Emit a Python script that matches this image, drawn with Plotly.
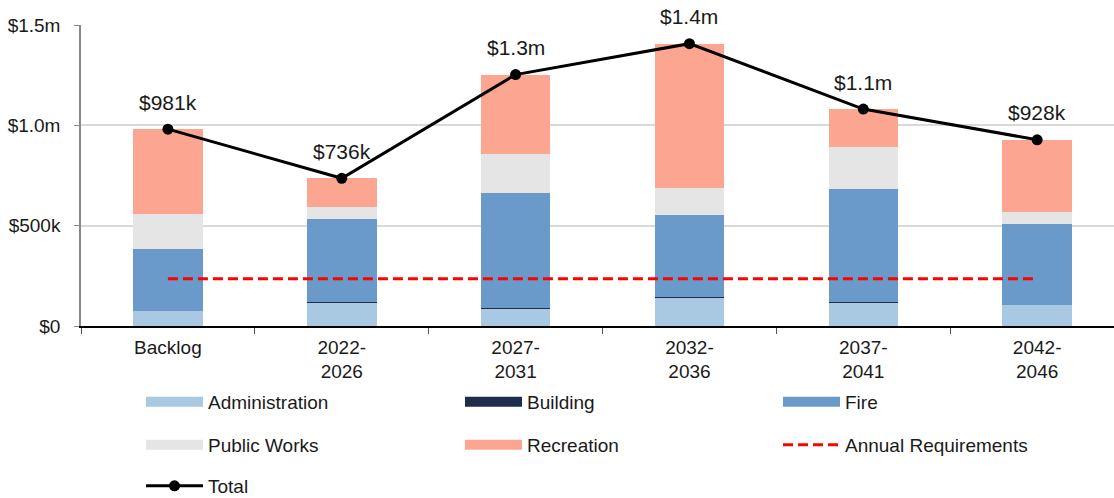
import plotly.graph_objects as go

# Capital needs by period, in thousands of dollars
periods = ["Backlog", "2022-<br>2026", "2027-<br>2031", "2032-<br>2036", "2037-<br>2041", "2042-<br>2046"]
administration = [75, 118, 88, 141, 118, 103]
building = [0, 1, 3, 3, 1, 0]
fire = [309, 413, 573, 409, 562, 405]
public_works = [176, 59, 193, 135, 209, 62]
recreation = [421, 145, 396, 719, 191, 358]
annual_requirement = 236

y_tickvals = [0, 500, 1000, 1500]
y_ticktext = ["$0", "$500k", "$1.0m", "$1.5m"]

totals = [a + b + f + p + r for a, b, f, p, r in
          zip(administration, building, fire, public_works, recreation)]


def money(v):
    return f"${v / 1000:.1f}m" if v >= 1000 else f"${v:.0f}k"


FONT = "Liberation Sans, Arial, sans-serif"
TEXT = "#1a1a1a"
series = [
    ("Administration", administration, "#a9c8e2"),
    ("Building", building, "#1f2d4d"),
    ("Fire", fire, "#6a9ac9"),
    ("Public Works", public_works, "#e5e5e5"),
    ("Recreation", recreation, "#fca692"),
]

# legend grid: three columns, three rows (pixel positions below the plot)
PLOT_L, PLOT_W, PLOT_B, PLOT_H = 81, 1033, 326, 301
col_px = [141, 460, 778]
row_px = [402, 445, 486]
slots = [(r, c) for r in range(3) for c in range(3)]


def legend_pos(i):
    r, c = slots[i]
    return dict(x=(col_px[c] - PLOT_L) / PLOT_W, y=(PLOT_B - row_px[r]) / PLOT_H)


fig = go.Figure()
for name, vals, color in series:
    fig.add_trace(go.Bar(
        x=periods, y=vals, name=name, marker_color=color,
        marker_line=dict(width=0), width=0.4, showlegend=False,
    ))

legend_names = []
# legend swatches for the stacked bars
for i, (name, vals, color) in enumerate(series):
    lg = "legend" if i == 0 else f"legend{i + 1}"
    legend_names.append(lg)
    fig.add_trace(go.Scatter(
        x=[None], y=[None], mode="lines", name=name, legend=lg,
        line=dict(color=color, width=12),
    ))

legend_names.append("legend6")
fig.add_trace(go.Scatter(
    x=periods, y=[annual_requirement] * len(periods), mode="lines",
    name="Annual Requirements", legend="legend6",
    line=dict(color="#ff0000", width=3, dash="10px,5px"),
))

legend_names.append("legend7")
fig.add_trace(go.Scatter(
    x=periods, y=totals, mode="lines+markers", name="Total", legend="legend7",
    line=dict(color="black", width=3), marker=dict(size=11, color="black"),
))

for p, t in zip(periods, totals):
    fig.add_annotation(x=p, y=t, text=money(t), showarrow=False,
                       yshift=27, font=dict(size=21, color=TEXT, family=FONT))

legend_layout = {}
for i, lg in enumerate(legend_names):
    legend_layout[lg] = dict(
        orientation="h", itemwidth=57, font=dict(size=19, color=TEXT, family=FONT),
        xanchor="left", yanchor="middle", bgcolor="rgba(0,0,0,0)",
        itemclick=False, itemdoubleclick=False, **legend_pos(i),
    )

fig.update_layout(
    width=1114, height=498,
    margin=dict(l=81, r=0, t=25, b=172, autoexpand=False),
    barmode="stack", bargap=0.6,
    plot_bgcolor="white", paper_bgcolor="white",
    font=dict(family=FONT, size=19, color=TEXT),
    xaxis=dict(
        type="category", range=[-0.5, 5.442],
        showline=True, linecolor="black", linewidth=1.5,
        ticks="outside", tickson="boundaries", ticklen=6, tickcolor="#555555",
        showgrid=False, tickfont=dict(size=19), ticklabelstandoff=3,
    ),
    yaxis=dict(
        range=[0, 1500], tickvals=y_tickvals, ticktext=y_ticktext,
        showline=True, linecolor="#888888", linewidth=1.5,
        ticks="outside", ticklen=5, tickcolor="#888888",
        showgrid=True, gridcolor="#d9d9d9", gridwidth=1.5,
        zeroline=False, tickfont=dict(size=19), ticklabelstandoff=10,
    ),
    **legend_layout,
)

fig.write_html("out.html")
